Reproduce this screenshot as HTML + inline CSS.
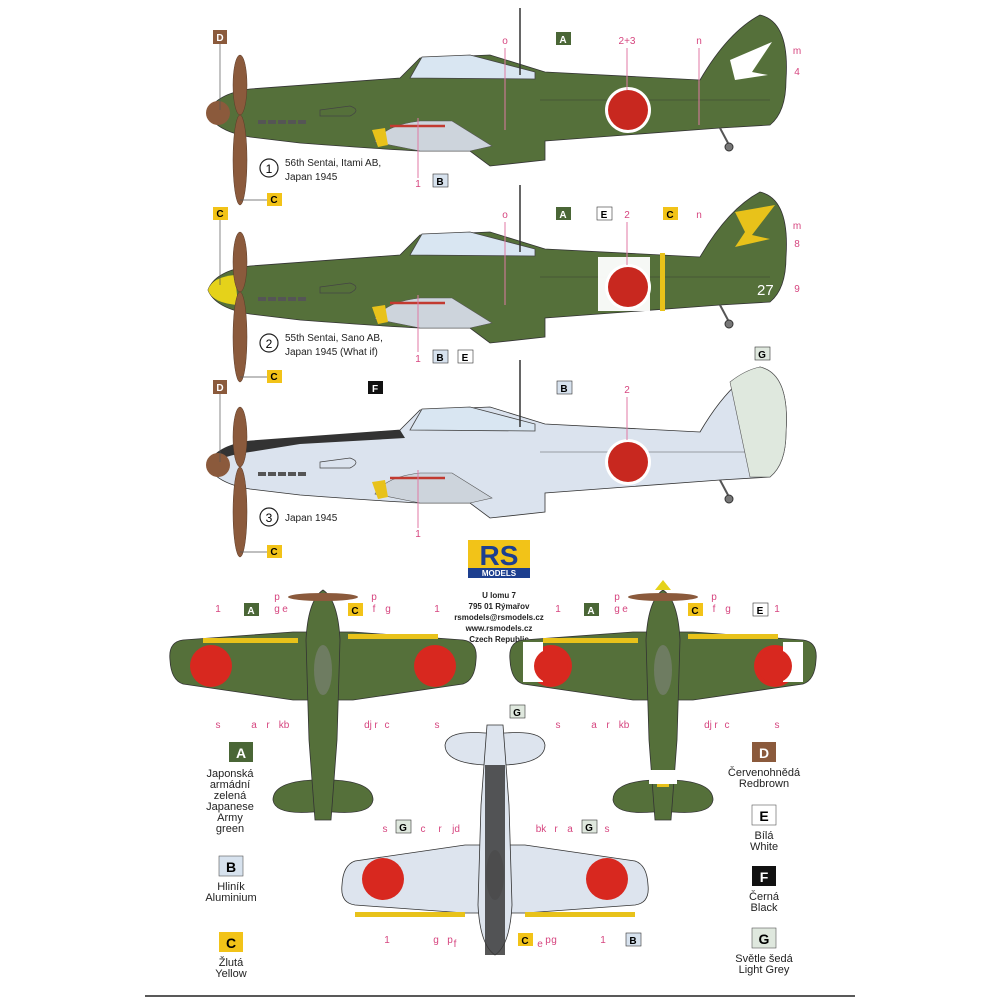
<!DOCTYPE html>
<html><head><meta charset="utf-8"><style>
html,body{margin:0;padding:0;background:#fff;}
svg{display:block;font-family:"Liberation Sans",Arial,sans-serif;}
.pk{fill:#d6457f;font-size:10px;text-anchor:middle}
.ln{stroke:#e07aa4;stroke-width:1}
.bl{fill:#222;font-size:10px}
.lg{fill:#222;font-size:11px;text-anchor:middle}
</style></head><body>
<svg width="1000" height="1000" viewBox="0 0 1000 1000" xmlns="http://www.w3.org/2000/svg">
<defs>
<g id="side">
 <path d="M208,113 Q215,94 250,89 L400,78 L420,58 L490,55 L545,72 L700,80 Q728,32 760,15 Q790,22 786,80 Q786,112 770,125 L720,128 L545,141 L545,160 L490,166 L470,151 L420,151 Q380,149 300,143 L250,137 Q215,131 208,113Z" fill="currentColor" stroke="#333" stroke-width="0.8"/>
 <path d="M410,78 L422,57 L470,55 L535,72 L535,79Z" fill="#d9e6f2" stroke="#444" stroke-width="0.8"/>
 <path d="M375,142 Q385,125 420,121 L452,121 L492,146 L470,151 L420,151 Z" fill="#cdd4dc" stroke="#555" stroke-width="0.6"/>
 <line x1="390" y1="126" x2="445" y2="126" stroke="#c23a30" stroke-width="2.5"/>
 <g fill="#555"><rect x="258" y="120" width="8" height="4"/><rect x="268" y="120" width="8" height="4"/><rect x="278" y="120" width="8" height="4"/><rect x="288" y="120" width="8" height="4"/><rect x="298" y="120" width="8" height="4"/></g>
 <path d="M320,110 L350,106 Q362,110 350,116 L320,116Z" fill="none" stroke="#444" stroke-width="0.7"/>
 <path d="M372,130 L385,128 L388,145 L378,147Z" fill="#e8c21a"/>
 <path d="M720,128 L728,143" stroke="#555" stroke-width="2"/>
 <circle cx="729" cy="147" r="4" fill="#777" stroke="#333"/>
 <line x1="520" y1="8" x2="520" y2="75" stroke="#333" stroke-width="1.5"/>
 <line x1="540" y1="100" x2="770" y2="100" stroke="#333" stroke-width="0.4"/>
 <circle cx="628" cy="110" r="23" fill="#fff"/><circle cx="628" cy="110" r="20" fill="#c8281f"/>
</g>
<g id="prop">
 <ellipse cx="240" cy="85" rx="7" ry="30" fill="#8b5a3c" stroke="#5a3a28" stroke-width="0.5"/>
 <ellipse cx="240" cy="160" rx="7" ry="45" fill="#8b5a3c" stroke="#5a3a28" stroke-width="0.5"/>
</g>
<g id="top">
 <path d="M-153,0 Q-155,-18 -140,-20 L-30,-28 L30,-28 L140,-20 Q155,-18 153,0 Q152,20 140,24 L30,40 L-30,40 L-140,24 Q-152,20 -153,0 Z" fill="currentColor" stroke="#333" stroke-width="0.8"/>
 <path d="M-50,140 Q-50,122 -10,120 L10,120 Q50,122 50,140 Q48,155 10,152 L-10,152 Q-48,155 -50,140Z" fill="currentColor" stroke="#333" stroke-width="0.8"/>
 <path d="M0,-70 Q15,-60 17,-20 L14,80 L8,160 L-8,160 L-14,80 L-17,-20 Q-15,-60 0,-70 Z" fill="currentColor" stroke="#333" stroke-width="0.8"/>
 <ellipse cx="0" cy="10" rx="9" ry="25" fill="#888" opacity="0.5"/>
 <circle cx="-112" cy="6" r="21" fill="#d8281f"/><circle cx="112" cy="6" r="21" fill="#d8281f"/>
</g>
</defs>

<!-- Plane 1 -->
<use href="#side" color="#55703a"/>
<path d="M730,60 L772,42 L752,72 L768,75 L735,80Z" fill="#fff"/>
<circle cx="218" cy="113" r="12" fill="#8b5a3c"/>
<use href="#prop"/>
<rect x="213" y="30" width="14" height="14" fill="#8b5a3c"/><text x="220" y="41" fill="#fff" font-size="10" font-weight="bold" text-anchor="middle">D</text>
<line x1="220" y1="44" x2="220" y2="110" stroke="#555" stroke-width="0.7"/>
<rect x="267" y="193" width="15" height="13" fill="#f2c318"/><text x="274" y="203" font-size="10" font-weight="bold" text-anchor="middle">C</text>
<line x1="240" y1="200" x2="267" y2="200" stroke="#555" stroke-width="0.7"/>
<rect x="556" y="32" width="15" height="13" fill="#4a6636"/><text x="563" y="43" fill="#fff" font-size="10" font-weight="bold" text-anchor="middle">A</text>
<rect x="433" y="174" width="15" height="13" fill="#d7e2ee" stroke="#333" stroke-width="0.6"/><text x="440" y="185" font-size="10" font-weight="bold" text-anchor="middle">B</text>
<text class="pk" x="505" y="44">o</text><text class="pk" x="627" y="44">2+3</text><text class="pk" x="699" y="44">n</text><text class="pk" x="797" y="54">m</text><text class="pk" x="797" y="75">4</text><text class="pk" x="418" y="187">1</text>
<line class="ln" x1="505" y1="48" x2="505" y2="130"/><line class="ln" x1="627" y1="48" x2="627" y2="90"/><line class="ln" x1="699" y1="48" x2="699" y2="125"/><line class="ln" x1="418" y1="118" x2="418" y2="178"/>
<circle cx="269" cy="168" r="9" fill="none" stroke="#222" stroke-width="1.2"/><text x="269" y="173" font-size="12" text-anchor="middle">1</text>
<text class="bl" x="285" y="166">56th Sentai, Itami AB,</text><text class="bl" x="285" y="180">Japan 1945</text>

<!-- Plane 2 -->
<g transform="translate(0,177)">
<use href="#side" color="#55703a"/>
<rect x="598" y="80" width="52" height="54" fill="#fff" opacity="0.95"/>
<circle cx="628" cy="110" r="20" fill="#c8281f"/>
<rect x="660" y="76" width="5" height="58" fill="#e8c21a"/>
<path d="M735,35 L775,28 L752,58 L770,62 L735,70 L745,55Z" fill="#e8c21a"/>
<text x="757" y="118" fill="#fff" font-size="15">27</text>
<path d="M208,113 Q212,100 235,98 L238,128 Q212,126 208,113Z" fill="#e5d21a"/>
<use href="#prop"/>
</g>
<rect x="213" y="207" width="15" height="13" fill="#f2c318"/><text x="220" y="217" font-size="10" font-weight="bold" text-anchor="middle">C</text>
<line x1="220" y1="220" x2="220" y2="285" stroke="#555" stroke-width="0.7"/>
<rect x="267" y="370" width="15" height="13" fill="#f2c318"/><text x="274" y="380" font-size="10" font-weight="bold" text-anchor="middle">C</text>
<line x1="240" y1="377" x2="267" y2="377" stroke="#555" stroke-width="0.7"/>
<rect x="556" y="207" width="15" height="13" fill="#4a6636"/><text x="563" y="218" fill="#fff" font-size="10" font-weight="bold" text-anchor="middle">A</text>
<rect x="597" y="207" width="15" height="13" fill="#fff" stroke="#333" stroke-width="0.6"/><text x="604" y="218" font-size="10" font-weight="bold" text-anchor="middle">E</text>
<rect x="663" y="207" width="15" height="13" fill="#f2c318"/><text x="670" y="218" font-size="10" font-weight="bold" text-anchor="middle">C</text>
<rect x="433" y="350" width="15" height="13" fill="#d7e2ee" stroke="#333" stroke-width="0.6"/><text x="440" y="361" font-size="10" font-weight="bold" text-anchor="middle">B</text>
<rect x="458" y="350" width="15" height="13" fill="#fff" stroke="#333" stroke-width="0.6"/><text x="465" y="361" font-size="10" font-weight="bold" text-anchor="middle">E</text>
<text class="pk" x="505" y="218">o</text><text class="pk" x="627" y="218">2</text><text class="pk" x="699" y="218">n</text><text class="pk" x="797" y="229">m</text><text class="pk" x="797" y="247">8</text><text class="pk" x="797" y="292">9</text><text class="pk" x="418" y="362">1</text>
<line class="ln" x1="505" y1="222" x2="505" y2="305"/><line class="ln" x1="627" y1="222" x2="627" y2="265"/><line class="ln" x1="418" y1="295" x2="418" y2="352"/>
<circle cx="269" cy="343" r="9" fill="none" stroke="#222" stroke-width="1.2"/><text x="269" y="348" font-size="12" text-anchor="middle">2</text>
<text class="bl" x="285" y="341">55th Sentai, Sano AB,</text><text class="bl" x="285" y="355">Japan 1945 (What if)</text>

<!-- Plane 3 -->
<g transform="translate(0,352)">
<use href="#side" color="#dbe3ee"/>
<path d="M208,113 Q215,94 250,89 L400,78 L405,86 L300,92 L250,100 Q220,104 212,113Z" fill="#333"/>
<path d="M730,30 Q745,18 760,15 Q790,22 786,80 Q786,112 770,125 L750,125 Z" fill="#dfe8de" stroke="#555" stroke-width="0.6"/>
<circle cx="218" cy="113" r="12" fill="#8b5a3c"/>
<use href="#prop"/>
</g>
<rect x="213" y="380" width="14" height="14" fill="#8b5a3c"/><text x="220" y="391" fill="#fff" font-size="10" font-weight="bold" text-anchor="middle">D</text>
<line x1="220" y1="394" x2="220" y2="462" stroke="#555" stroke-width="0.7"/>
<rect x="267" y="545" width="15" height="13" fill="#f2c318"/><text x="274" y="555" font-size="10" font-weight="bold" text-anchor="middle">C</text>
<line x1="240" y1="552" x2="267" y2="552" stroke="#555" stroke-width="0.7"/>
<rect x="368" y="381" width="15" height="13" fill="#111"/><text x="375" y="392" fill="#fff" font-size="10" font-weight="bold" text-anchor="middle">F</text>
<rect x="557" y="381" width="15" height="13" fill="#d7e2ee" stroke="#333" stroke-width="0.6"/><text x="564" y="392" font-size="10" font-weight="bold" text-anchor="middle">B</text>
<rect x="755" y="347" width="15" height="13" fill="#dfe8de" stroke="#333" stroke-width="0.6"/><text x="762" y="358" font-size="10" font-weight="bold" text-anchor="middle">G</text>
<text class="pk" x="627" y="393">2</text><text class="pk" x="418" y="537">1</text>
<line class="ln" x1="627" y1="397" x2="627" y2="440"/><line class="ln" x1="418" y1="470" x2="418" y2="528"/>
<circle cx="269" cy="517" r="9" fill="none" stroke="#222" stroke-width="1.2"/><text x="269" y="522" font-size="12" text-anchor="middle">3</text>
<text class="bl" x="285" y="521">Japan 1945</text>

<!-- logo -->
<rect x="468" y="540" width="62" height="28" fill="#f2c318"/>
<text x="499" y="565" font-size="28" font-weight="bold" fill="#1d3f8f" text-anchor="middle">RS</text>
<rect x="468" y="568" width="62" height="10" fill="#1d3f8f"/><text x="499" y="576" font-size="8" fill="#fff" font-weight="bold" text-anchor="middle">MODELS</text>
<g font-size="8" font-weight="bold" fill="#222" text-anchor="middle">
<text x="499" y="598">U lomu 7</text><text x="499" y="609">795 01 Rýmařov</text><text x="499" y="620">rsmodels@rsmodels.cz</text><text x="499" y="631">www.rsmodels.cz</text><text x="499" y="642">Czech Republic</text></g>

<!-- top views -->
<g transform="translate(323,660)"><use href="#top" color="#55703a"/><rect x="-120" y="-22" width="95" height="5" fill="#e8c21a"/><rect x="25" y="-26" width="90" height="5" fill="#e8c21a"/><ellipse cx="0" cy="-63" rx="35" ry="4" fill="#8b5a3c"/></g>
<g transform="translate(663,660)"><use href="#top" color="#55703a"/><rect x="-140" y="-18" width="20" height="40" fill="#fff"/><rect x="120" y="-18" width="20" height="40" fill="#fff"/><circle cx="-112" cy="6" r="17" fill="#d8281f"/><circle cx="112" cy="6" r="17" fill="#d8281f"/><rect x="-120" y="-22" width="95" height="5" fill="#e8c21a"/><rect x="25" y="-26" width="90" height="5" fill="#e8c21a"/><rect x="-14" y="110" width="28" height="14" fill="#fff"/><rect x="-6" y="124" width="12" height="3" fill="#e8c21a"/><ellipse cx="0" cy="-63" rx="35" ry="4" fill="#8b5a3c"/><path d="M-8,-70 L0,-80 L8,-70Z" fill="#e5d21a"/></g>
<g transform="translate(495,885) scale(1,-1)"><use href="#top" color="#dde4ee"/><rect x="-140" y="-32" width="110" height="5" fill="#e8c21a"/><rect x="30" y="-32" width="110" height="5" fill="#e8c21a"/><path d="M-10,-70 L10,-70 L10,120 L-10,120Z" fill="#3a3a3a" opacity="0.85"/></g>

<g>
<text class="pk" x="218" y="612">1</text><text class="pk" x="277" y="612">g</text><text class="pk" x="277" y="600">p</text><text class="pk" x="285" y="612">e</text><text class="pk" x="374" y="600">p</text><text class="pk" x="374" y="612">f</text><text class="pk" x="388" y="612">g</text><text class="pk" x="437" y="612">1</text>
<text class="pk" x="218" y="728">s</text><text class="pk" x="254" y="728">a</text><text class="pk" x="268" y="728">r</text><text class="pk" x="284" y="728">kb</text><text class="pk" x="368" y="728">dj</text><text class="pk" x="387" y="728">c</text><text class="pk" x="376" y="728">r</text><text class="pk" x="437" y="728">s</text>
<rect x="244" y="603" width="15" height="13" fill="#4a6636"/><text x="251" y="614" fill="#fff" font-size="10" font-weight="bold" text-anchor="middle">A</text>
<rect x="348" y="603" width="15" height="13" fill="#f2c318"/><text x="355" y="614" font-size="10" font-weight="bold" text-anchor="middle">C</text>
<text class="pk" x="558" y="612">1</text><text class="pk" x="617" y="612">g</text><text class="pk" x="617" y="600">p</text><text class="pk" x="625" y="612">e</text><text class="pk" x="714" y="600">p</text><text class="pk" x="714" y="612">f</text><text class="pk" x="728" y="612">g</text><text class="pk" x="777" y="612">1</text>
<text class="pk" x="558" y="728">s</text><text class="pk" x="594" y="728">a</text><text class="pk" x="608" y="728">r</text><text class="pk" x="624" y="728">kb</text><text class="pk" x="708" y="728">dj</text><text class="pk" x="716" y="728">r</text><text class="pk" x="727" y="728">c</text><text class="pk" x="777" y="728">s</text>
<rect x="584" y="603" width="15" height="13" fill="#4a6636"/><text x="591" y="614" fill="#fff" font-size="10" font-weight="bold" text-anchor="middle">A</text>
<rect x="688" y="603" width="15" height="13" fill="#f2c318"/><text x="695" y="614" font-size="10" font-weight="bold" text-anchor="middle">C</text>
<rect x="753" y="603" width="15" height="13" fill="#fff" stroke="#333" stroke-width="0.6"/><text x="760" y="614" font-size="10" font-weight="bold" text-anchor="middle">E</text>
<rect x="510" y="705" width="15" height="13" fill="#dfe8de" stroke="#333" stroke-width="0.6"/><text x="517" y="716" font-size="10" font-weight="bold" text-anchor="middle">G</text>
<text class="pk" x="385" y="832">s</text><text class="pk" x="423" y="832">c</text><text class="pk" x="440" y="832">r</text><text class="pk" x="456" y="832">jd</text><text class="pk" x="541" y="832">bk</text><text class="pk" x="556" y="832">r</text><text class="pk" x="570" y="832">a</text><text class="pk" x="607" y="832">s</text>
<rect x="396" y="820" width="15" height="13" fill="#dfe8de" stroke="#333" stroke-width="0.6"/><text x="403" y="831" font-size="10" font-weight="bold" text-anchor="middle">G</text>
<rect x="582" y="820" width="15" height="13" fill="#dfe8de" stroke="#333" stroke-width="0.6"/><text x="589" y="831" font-size="10" font-weight="bold" text-anchor="middle">G</text>
<text class="pk" x="387" y="943">1</text><text class="pk" x="436" y="943">g</text><text class="pk" x="450" y="943">p</text><text class="pk" x="455" y="947">f</text><text class="pk" x="540" y="947">e</text><text class="pk" x="548" y="943">p</text><text class="pk" x="554" y="943">g</text><text class="pk" x="603" y="943">1</text>
<rect x="518" y="933" width="15" height="13" fill="#f2c318"/><text x="525" y="944" font-size="10" font-weight="bold" text-anchor="middle">C</text>
<rect x="626" y="933" width="15" height="13" fill="#d7e2ee" stroke="#333" stroke-width="0.6"/><text x="633" y="944" font-size="10" font-weight="bold" text-anchor="middle">B</text>
</g>

<!-- legend -->
<rect x="229" y="742" width="24" height="20" fill="#4a6636"/><text x="241" y="758" fill="#fff" font-size="14" font-weight="bold" text-anchor="middle">A</text>
<text class="lg" x="230" y="777">Japonská</text><text class="lg" x="230" y="788">armádní</text><text class="lg" x="230" y="799">zelená</text><text class="lg" x="230" y="810">Japanese</text><text class="lg" x="230" y="821">Army</text><text class="lg" x="230" y="832">green</text>
<rect x="219" y="856" width="24" height="20" fill="#d7e2ee" stroke="#555" stroke-width="0.6"/><text x="231" y="872" font-size="14" font-weight="bold" text-anchor="middle">B</text>
<text class="lg" x="231" y="890">Hliník</text><text class="lg" x="231" y="901">Aluminium</text>
<rect x="219" y="932" width="24" height="20" fill="#f2c318"/><text x="231" y="948" font-size="14" font-weight="bold" text-anchor="middle">C</text>
<text class="lg" x="231" y="966">Žlutá</text><text class="lg" x="231" y="977">Yellow</text>
<rect x="752" y="742" width="24" height="20" fill="#8b5a3c"/><text x="764" y="758" fill="#fff" font-size="14" font-weight="bold" text-anchor="middle">D</text>
<text class="lg" x="764" y="776">Červenohnědá</text><text class="lg" x="764" y="787">Redbrown</text>
<rect x="752" y="805" width="24" height="20" fill="#fff" stroke="#555" stroke-width="0.6"/><text x="764" y="821" font-size="14" font-weight="bold" text-anchor="middle">E</text>
<text class="lg" x="764" y="839">Bílá</text><text class="lg" x="764" y="850">White</text>
<rect x="752" y="866" width="24" height="20" fill="#111"/><text x="764" y="882" fill="#fff" font-size="14" font-weight="bold" text-anchor="middle">F</text>
<text class="lg" x="764" y="900">Černá</text><text class="lg" x="764" y="911">Black</text>
<rect x="752" y="928" width="24" height="20" fill="#dfe8de" stroke="#555" stroke-width="0.6"/><text x="764" y="944" font-size="14" font-weight="bold" text-anchor="middle">G</text>
<text class="lg" x="764" y="962">Světle šedá</text><text class="lg" x="764" y="973">Light Grey</text>
<line x1="145" y1="996" x2="855" y2="996" stroke="#222" stroke-width="1.5"/>
</svg>
</body></html>
